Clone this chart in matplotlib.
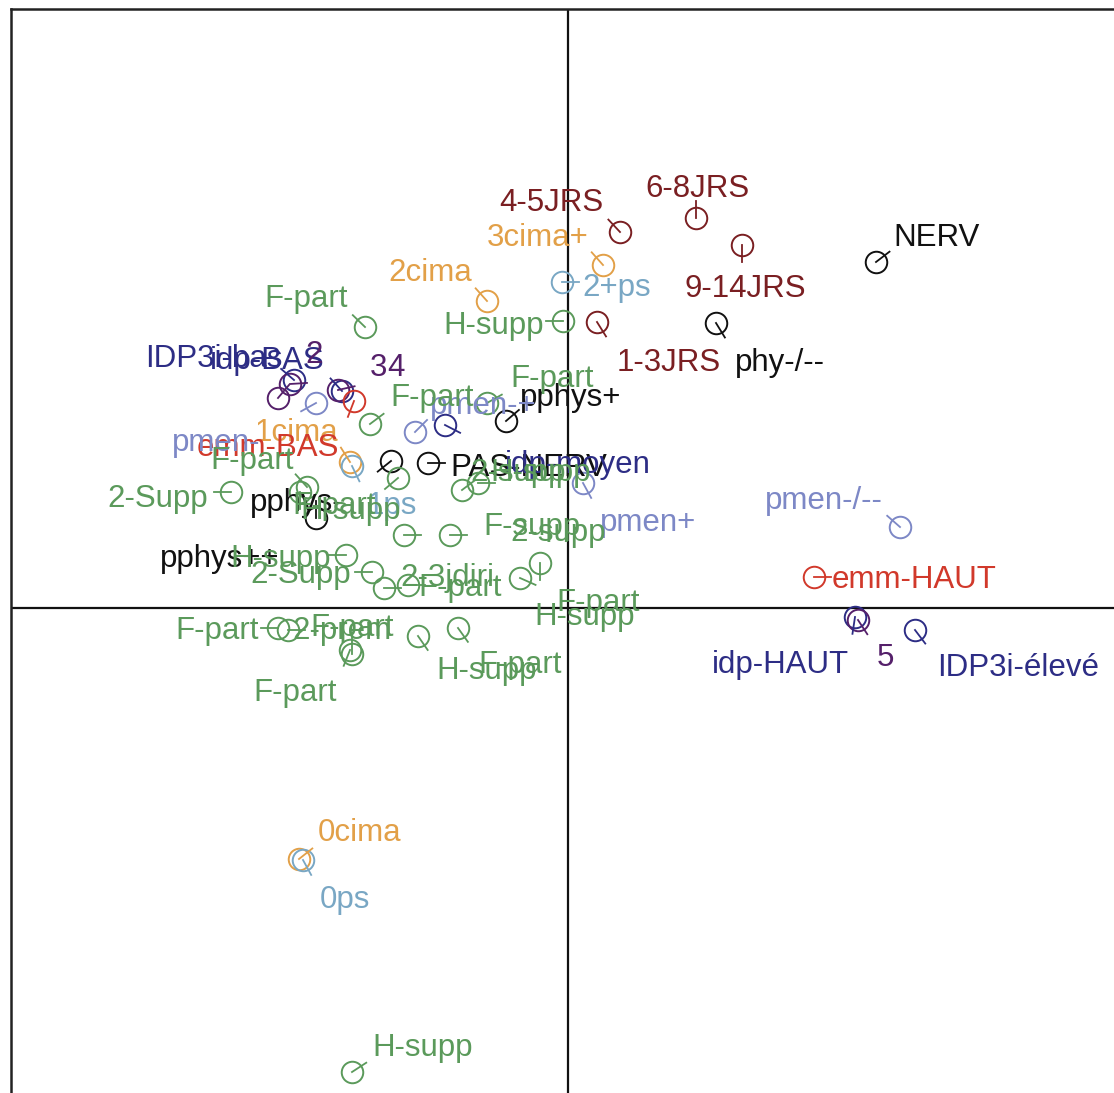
import numpy as np
import matplotlib
matplotlib.use('Agg')
import matplotlib.pyplot as plt

# modalities on the first factorial plane (Dim1, Dim2)
LABELS = ['4-5JRS', '6-8JRS', '9-14JRS', '1-3JRS',
          '3cima+', '2cima', '1cima', '0cima',
          '2+ps', '1ps', '0ps',
          'NERV', 'phy-/--', 'pphys+', 'PAS-NERV', 'pphys-', 'pphys++',
          'IDP3i-bas', 'idp-BAS', '2', '3', '4', 'emm-BAS',
          'pmen-', 'pmen-+', 'idp-moyen', 'pmen+', 'pmen-/--',
          'emm-HAUT', 'idp-HAUT', '5', 'IDP3i-élevé',
          'F-part', 'H-supp', 'F-part', 'F-part', 'F-part', '2-Supp',
          'F-part', 'H-supp', 'H-supp', '2-supp', 'F-supp', '2-supp',
          'H-supp', '2-Supp', '2-3jdiri', 'F-part', 'F-part', 'H-supp',
          'F-part', '2-prem', 'F-part', 'H-supp', 'F-part', 'F-part',
          'H-supp']

DIM1 = [0.208, 0.512, 0.696, 0.116,
        0.140, -0.324, -0.872, -1.076,
        -0.024, -0.864, -1.060,
        1.232, 0.592, -0.248, -0.560, -1.008, -0.708,
        -1.096, -0.904, -1.160, -1.112, -0.920, -0.856,
        -1.008, -0.612, -0.492, 0.060, 1.328,
        0.984, 1.148, 1.160, 1.388,
        -0.812, -0.020, -0.792, -0.324, -1.044, -1.348,
        -0.680, -1.072, -0.360, -0.424, -0.472, -0.656,
        -0.888, -0.784, -0.736, -0.640, -0.192, -0.112,
        -1.160, -1.120, -0.864, -0.600, -0.440, -0.872,
        -0.864]

DIM2 = [1.504, 1.560, 1.452, 1.144,
        1.372, 1.228, 0.584, -1.004,
        1.304, 0.568, -1.008,
        1.384, 1.140, 0.748, 0.580, 0.360, 0.588,
        0.912, 0.868, 0.840, 0.896, 0.872, 0.828,
        0.820, 0.704, 0.732, 0.500, 0.324,
        0.124, -0.036, -0.048, -0.088,
        1.124, 1.148, 0.736, 0.820, 0.484, 0.464,
        0.520, 0.464, 0.500, 0.472, 0.292, 0.292,
        0.212, 0.144, 0.080, 0.092, 0.120, 0.180,
        -0.080, -0.088, -0.184, -0.112, -0.080, -0.168,
        -1.856]

GROUPS = ['jrs'] * 4 + ['cima'] * 4 + ['ps'] * 3 + ['phys'] * 6 + \
         ['idp', 'idp', 'num', 'num', 'num', 'emm'] + \
         ['pmen', 'pmen', 'idp', 'pmen', 'pmen'] + \
         ['emm', 'idp', 'num', 'idp'] + ['ctx'] * 25

GROUP_COLORS = {
    'jrs': '#7a1f22',
    'cima': '#e2a048',
    'ps': '#79a7c4',
    'phys': '#111111',
    'idp': '#2d2d85',
    'num': '#55206a',
    'emm': '#d1392b',
    'pmen': '#7d88c6',
    'ctx': '#5b9a5b',
}

# label placement, pixels from the point (left / baseline of the text)
LABEL_OFFSETS = [(-121, 21), (-51, 21), (-58, -52), (20, -49),
                 (-116, 19), (-99, 20), (-95, 21), (19, 18),
                 (20, -14), (15, -48), (17, -48),
                 (17, 16), (19, -48), (14, 15), (22, -13), (-66, 7), (-231, -106),
                 (-149, 13), (-132, 22), (27, 35), (80, 8), (49, 14), (-157, -55),
                 (-144, -48), (15, 18), (60, -48), (17, -48), (-135, 18),
                 (18, -11), (-143, -56), (19, -46), (22, -46),
                 (-101, 20), (-120, -13), (20, 18), (23, 16), (-97, 18), (-124, -15),
                 (-106, -36), (0, -27), (12, 2), (8, 9), (33, 0), (106, -6),
                 (-116, -12), (-122, -11), (16, 2), (10, -11), (36, -33), (-6, -62),
                 (-103, -11), (4, -9), (-42, 18), (18, -43), (20, -45), (-97, -51),
                 (20, 16)]

FIG_W, FIG_H, DPI = 1114, 1093, 100
SCALE = 250.0          # pixels per unit
ORIGIN = (568, 608)    # pixel position of (0, 0)
TICK_LEN = 17


def nearest_direction(center, bbox):
    nx = min(max(center[0], bbox.x0), bbox.x1)
    ny = min(max(center[1], bbox.y0 + 4), bbox.y1 - 6)
    d = np.array([nx - center[0], ny - center[1]])
    n = np.hypot(d[0], d[1])
    if n < 1e-6:
        return None
    return d / n


def main():
    plt.rcParams['font.family'] = ['Liberation Sans', 'DejaVu Sans']
    fig = plt.figure(figsize=(FIG_W / DPI, FIG_H / DPI), dpi=DPI)

    left_px, top_px, right_px, bottom_px = 11, 9, 1125, 1100
    ax = fig.add_axes([left_px / FIG_W, 1 - bottom_px / FIG_H,
                       (right_px - left_px) / FIG_W, (bottom_px - top_px) / FIG_H])
    ax.set_xlim((left_px - ORIGIN[0]) / SCALE, (right_px - ORIGIN[0]) / SCALE)
    ax.set_ylim((ORIGIN[1] - bottom_px) / SCALE, (ORIGIN[1] - top_px) / SCALE)
    ax.set_xticks([])
    ax.set_yticks([])
    for side in ax.spines:
        ax.spines[side].set_linewidth(1.8)
        ax.spines[side].set_color('#222222')
    ax.spines['right'].set_visible(False)
    ax.spines['bottom'].set_visible(False)

    ax.axhline(0, color='#111111', lw=1.6, zorder=1)
    ax.axvline(0, color='#111111', lw=1.6, zorder=1)

    texts = []
    for label, x, y, group, off in zip(LABELS, DIM1, DIM2, GROUPS, LABEL_OFFSETS):
        color = GROUP_COLORS[group]
        ax.plot(x, y, 'o', ms=15.5, mfc='none', mec=color, mew=1.4, zorder=3)
        t = ax.annotate(label, (x, y), xytext=off, textcoords='offset pixels',
                        ha='left', va='baseline', fontsize=22.5, color=color, zorder=4)
        texts.append(t)

    fig.canvas.draw()
    renderer = fig.canvas.get_renderer()
    inv = ax.transData.inverted()
    for t, x, y, group in zip(texts, DIM1, DIM2, GROUPS):
        center = ax.transData.transform((x, y))
        u = nearest_direction(center, t.get_window_extent(renderer))
        if u is None:
            continue
        end = inv.transform(center + u * TICK_LEN)
        ax.plot([x, end[0]], [y, end[1]], color=GROUP_COLORS[group], lw=1.3, zorder=3)

    fig.savefig('out.png', dpi=DPI)


main()
